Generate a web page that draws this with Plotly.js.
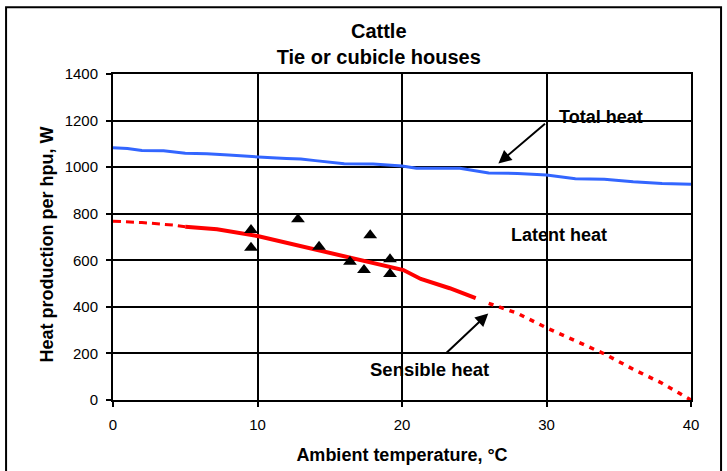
<!DOCTYPE html>
<html>
<head>
<meta charset="utf-8">
<script src="https://cdn.plot.ly/plotly-3.0.1.min.js"></script>
<style>
  html, body { margin: 0; padding: 0; background: #fff; }
  #chart { width: 727px; height: 471px; }
</style>
</head>
<body>
<div id="chart"></div>
<script>
// Total heat (blue)
const totalX = [0, 1, 2, 3.5, 5, 6.5, 8, 10, 11, 12, 13, 14, 15, 16, 18, 20, 21, 24, 26, 28, 30, 32, 34, 36, 38, 40];
const totalY = [1083, 1080, 1072, 1070, 1060, 1058, 1052, 1042, 1040, 1037, 1035, 1028, 1020, 1015, 1013, 1005, 995, 995, 975, 973, 966, 950, 948, 937, 930, 926];

// Sensible heat (red) - extrapolated low range (dashed)
const sensLowX = [0, 2, 4.2, 5];
const sensLowY = [768, 762, 751, 744];
// Sensible heat - measured range (solid)
const sensMidX = [5, 7.2, 10, 12, 14.1, 16.2, 18.3, 20.1, 21.3, 23.3, 25.1];
const sensMidY = [744, 733, 704, 675, 644, 615, 587, 558, 520, 480, 437];
// Sensible heat - extrapolated high range (dotted)
const sensHighX = [26, 28, 30, 32, 34, 36, 38, 39.2, 40];
const sensHighY = [415, 372, 310, 252, 198, 132, 72, 29, 0];

// Measured points (triangles)
const obsX = [9.55, 9.55, 12.8, 14.26, 16.4, 17.37, 17.8, 19.17, 19.17];
const obsY = [730, 654, 776, 658, 594, 558, 708, 604, 541];

const xTicks = [0, 10, 20, 30, 40];
const yTicks = [0, 200, 400, 600, 800, 1000, 1200, 1400];

const FONT = 'Liberation Sans, Arial, sans-serif';

const traces = [
  { x: totalX, y: totalY, mode: 'lines', line: { color: '#3366ff', width: 3 }, hoverinfo: 'skip' },
  { x: sensLowX, y: sensLowY, mode: 'lines', line: { color: '#ff0000', width: 3, dash: '8px,5px' }, hoverinfo: 'skip' },
  { x: sensMidX, y: sensMidY, mode: 'lines', line: { color: '#ff0000', width: 4 }, hoverinfo: 'skip' },
  { x: sensHighX, y: sensHighY, mode: 'lines', line: { color: '#ff0000', width: 3.5, dash: '5px,6px' }, hoverinfo: 'skip' },
  { x: obsX, y: obsY, mode: 'markers', marker: { symbol: 'triangle-up', size: 12, color: '#000' }, hoverinfo: 'skip' }
];

const layout = {
  width: 727, height: 471,
  margin: { l: 113, r: 36, t: 74, b: 71 },
  paper_bgcolor: '#fff', plot_bgcolor: '#fff',
  showlegend: false,
  font: { family: FONT, color: '#000', size: 15 },
  title: {
    text: '<b>Cattle</b><br><b>Tie or cubicle houses</b>',
    font: { family: FONT, size: 20, color: '#000' },
    xref: 'container', x: 0.521, xanchor: 'center',
    yref: 'container', y: 0.92, yanchor: 'middle'
  },
  xaxis: {
    range: [0, 40], tickvals: xTicks, ticktext: xTicks.map(String),
    showgrid: true, gridcolor: '#000', gridwidth: 2,
    showline: true, linecolor: '#000', linewidth: 2, mirror: true,
    ticks: 'outside', ticklen: 5, tickcolor: '#000', tickwidth: 2,
    ticklabelstandoff: 5,
    zeroline: false,
    tickfont: { family: FONT, size: 15, color: '#000' },
    title: { text: '<b>Ambient temperature, °C</b>', font: { family: FONT, size: 18, color: '#000' }, standoff: 16 }
  },
  yaxis: {
    range: [0, 1400], tickvals: yTicks, ticktext: yTicks.map(String),
    showgrid: true, gridcolor: '#000', gridwidth: 2,
    showline: true, linecolor: '#000', linewidth: 2, mirror: true,
    ticks: 'outside', ticklen: 5, tickcolor: '#000', tickwidth: 2,
    ticklabelstandoff: 5,
    zeroline: false,
    tickfont: { family: FONT, size: 15, color: '#000' }
  },
  shapes: [
    { type: 'rect', xref: 'paper', yref: 'paper', x0: -0.185, x1: 1.052, y0: -0.25, y1: 1.205,
      line: { color: '#000', width: 2 }, fillcolor: 'rgba(0,0,0,0)', layer: 'below' }
  ],
  annotations: [
    { xref: 'paper', yref: 'paper', x: -0.114, y: 0.477, xanchor: 'center', yanchor: 'middle', textangle: -90,
      text: '<b>Heat production per hpu, W</b>', showarrow: false,
      font: { family: FONT, size: 18, color: '#000' } },
    { x: 26.67, y: 1016, ax: 30.0, ay: 1192, axref: 'x', ayref: 'y', xref: 'x', yref: 'y',
      text: '', showarrow: true, arrowhead: 2, arrowsize: 1.3, arrowwidth: 2, arrowcolor: '#000' },
    { x: 33.8, y: 1216, xref: 'x', yref: 'y', text: '<b>Total heat</b>', showarrow: false,
      font: { family: FONT, size: 18, color: '#000' } },
    { x: 30.87, y: 707, xref: 'x', yref: 'y', text: '<b>Latent heat</b>', showarrow: false,
      font: { family: FONT, size: 18, color: '#000' } },
    { x: 25.97, y: 372, ax: 22.98, ay: 197, axref: 'x', ayref: 'y', xref: 'x', yref: 'y',
      text: '', showarrow: true, arrowhead: 2, arrowsize: 1.3, arrowwidth: 2, arrowcolor: '#000' },
    { x: 21.87, y: 129, xref: 'x', yref: 'y', text: '<b>Sensible heat</b>', showarrow: false,
      font: { family: FONT, size: 18.5, color: '#000' } }
  ]
};

Plotly.newPlot('chart', traces, layout, { displayModeBar: false, staticPlot: true });
</script>
</body>
</html>
